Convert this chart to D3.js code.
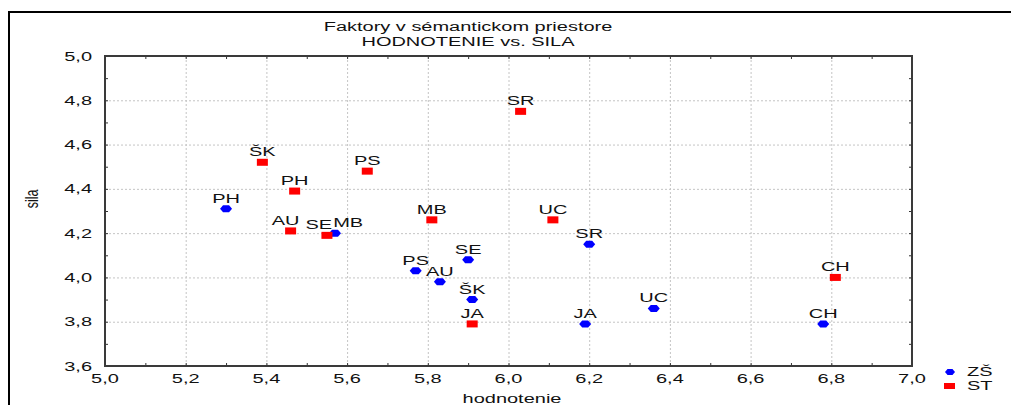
<!DOCTYPE html>
<html>
<head>
<meta charset="utf-8">
<script src="https://d3js.org/d3.v7.min.js"></script>
<style>
  html, body { margin: 0; padding: 0; background: #fff; }
  svg { display: block; }
  text { font-family: "Liberation Sans", Arial, sans-serif; font-size: 12.5px; fill: #111; }
  .grid line { stroke: #c4c4c4; stroke-dasharray: 2,2; }
  .grid path { display: none; }
  .ticks path { display: none; }
  .ticks line { stroke: #333; }
</style>
</head>
<body>
<div id="chart"></div>
<script>
// ---------- data ----------
const titleLines = ['Faktory v sémantickom priestore', 'HODNOTENIE vs. SILA'];
const xTitle = 'hodnotenie';
const yTitle = 'sila';

const categories = ['PH', 'ŠK', 'PS', 'AU', 'SE', 'MB', 'SR', 'UC', 'JA', 'CH'];
// ZŠ
const zsHodnotenie = [5.30, 5.91, 5.77, 5.83, 5.90, 5.57, 6.20, 6.36, 6.19, 6.78];
const zsSila       = [4.31, 3.90, 4.03, 3.98, 4.08, 4.20, 4.15, 3.86, 3.79, 3.79];
// ST
const stHodnotenie = [5.47, 5.39, 5.65, 5.46, 5.55, 5.81, 6.03, 6.11, 5.91, 6.81];
const stSila       = [4.39, 4.52, 4.48, 4.21, 4.19, 4.26, 4.75, 4.26, 3.79, 4.00];

const seriesNames = ['ZŠ', 'ST'];

const xMajorTicks = [5.0, 5.2, 5.4, 5.6, 5.8, 6.0, 6.2, 6.4, 6.6, 6.8, 7.0];
const yMajorTicks = [3.6, 3.8, 4.0, 4.2, 4.4, 4.6, 4.8, 5.0];

// ---------- layout ----------
const W = 1011, H = 405;
const plot = { left: 105, right: 912, top: 56, bottom: 366 };
const SX = 1.6; // horizontal stretch of the original bitmap text

const svg = d3.select('#chart').append('svg')
  .attr('width', W)
  .attr('height', H);

const x = d3.scaleLinear().domain([5.0, 7.0]).range([plot.left, plot.right]);
const y = d3.scaleLinear().domain([3.6, 5.0]).range([plot.bottom, plot.top]);

const fmt = v => d3.format('.1f')(v).replace('.', ',');

// stretched text helper
const stretchText = (parent, tx, ty, str, anchor) => parent.append('text')
  .attr('transform', `translate(${tx},${ty}) scale(${SX},1)`)
  .attr('text-anchor', anchor || 'middle')
  .text(str);

// outer frame (runs off the right and bottom edges)
svg.append('rect')
  .attr('x', 9).attr('y', 12)
  .attr('width', W).attr('height', H)
  .attr('fill', 'none')
  .attr('stroke', '#000')
  .attr('stroke-width', 2);

// minor tick values
const xMinor = d3.range(51, 70, 2).map(d => d / 10);
const yMinor = d3.range(37, 50, 2).map(d => d / 10);

// gridlines
svg.append('g').attr('class', 'grid')
  .attr('transform', `translate(0,${plot.bottom})`)
  .call(d3.axisBottom(x).tickValues(xMajorTicks.slice(1, -1))
    .tickSize(-(plot.bottom - plot.top)).tickFormat(''));
svg.append('g').attr('class', 'grid')
  .attr('transform', `translate(${plot.left},0)`)
  .call(d3.axisLeft(y).tickValues(yMajorTicks.slice(1, -1))
    .tickSize(-(plot.right - plot.left)).tickFormat(''));

// inward ticks on all four sides
const tickSets = [
  [d3.axisBottom(x), `translate(0,${plot.bottom})`, xMajorTicks, xMinor],
  [d3.axisTop(x), `translate(0,${plot.top})`, xMajorTicks, xMinor],
  [d3.axisLeft(y), `translate(${plot.left},0)`, yMajorTicks, yMinor],
  [d3.axisRight(y), `translate(${plot.right},0)`, yMajorTicks, yMinor]
];
tickSets.forEach(([ax, tr, major, minor]) => {
  svg.append('g').attr('class', 'ticks').attr('transform', tr)
    .call(ax.tickValues(major.concat(minor)).tickSize(-3).tickFormat(''));
});

// plot frame
svg.append('rect')
  .attr('x', plot.left).attr('y', plot.top)
  .attr('width', plot.right - plot.left)
  .attr('height', plot.bottom - plot.top)
  .attr('fill', 'none')
  .attr('stroke', '#3a3a3a')
  .attr('stroke-width', 2);

// tick labels
const labels = svg.append('g');
xMajorTicks.forEach(v => stretchText(labels, x(v), plot.bottom + 17, fmt(v), 'middle'));
yMajorTicks.forEach(v => stretchText(labels, plot.left - 13, y(v) + 4.5, fmt(v), 'end'));

// titles
stretchText(svg, 468, 31, titleLines[0], 'middle');
stretchText(svg, 468, 46, titleLines[1], 'middle');
stretchText(svg, 512, 403, xTitle, 'middle');
svg.append('text')
  .attr('transform', 'translate(38,199) rotate(-90) scale(1,1.5)')
  .attr('text-anchor', 'middle')
  .text(yTitle);

// markers
const diamond = (w, h) => `M${-w / 2},0 L${-w / 4},${-h / 2} L${w / 4},${-h / 2} L${w / 2},0 L${w / 4},${h / 2} L${-w / 4},${h / 2} Z`;

const zsData = categories.map((c, i) => ({ label: c, hx: zsHodnotenie[i], sy: zsSila[i] }));
const stData = categories.map((c, i) => ({ label: c, hx: stHodnotenie[i], sy: stSila[i] }));

const pts = svg.append('g');

pts.selectAll('.zs')
  .data(zsData)
  .enter()
  .append('path')
  .attr('class', 'zs')
  .attr('d', diamond(12, 7))
  .attr('transform', d => `translate(${x(d.hx)},${y(d.sy)})`)
  .attr('fill', '#0000ff');

pts.selectAll('.st')
  .data(stData)
  .enter()
  .append('rect')
  .attr('class', 'st')
  .attr('x', d => x(d.hx) - 5.5)
  .attr('y', d => y(d.sy) - 3.5)
  .attr('width', 11)
  .attr('height', 7)
  .attr('fill', '#ff0000');

// point labels, nudged sideways when two of them collide
const pointLabels = zsData.concat(stData).map(d => {
  const lx = x(d.hx), ly = y(d.sy) - 6;
  const node = stretchText(pts, lx, ly, d.label, 'middle');
  const w = node.node().getBoundingClientRect().width;
  return { node, lx, ly, w };
});
for (let i = 0; i < pointLabels.length; i++) {
  for (let j = i + 1; j < pointLabels.length; j++) {
    const a = pointLabels[i], b = pointLabels[j];
    if (Math.abs(a.ly - b.ly) > 10) continue;
    const need = (a.w + b.w) / 2 + 6 - Math.abs(a.lx - b.lx);
    if (need > 0) {
      const s = a.lx < b.lx ? 1 : -1;
      a.lx -= s * need / 2;
      b.lx += s * need / 2;
    }
  }
}
pointLabels.forEach(p => p.node.attr('transform', `translate(${p.lx},${p.ly}) scale(${SX},1)`));

// legend
const lg = svg.append('g');
lg.append('path')
  .attr('d', diamond(10, 6))
  .attr('transform', 'translate(950,372)')
  .attr('fill', '#0000ff');
lg.append('rect')
  .attr('x', 944).attr('y', 383)
  .attr('width', 11).attr('height', 6)
  .attr('fill', '#ff0000');
stretchText(lg, 967, 376, seriesNames[0], 'start');
stretchText(lg, 967, 390, seriesNames[1], 'start');
</script>
</body>
</html>
